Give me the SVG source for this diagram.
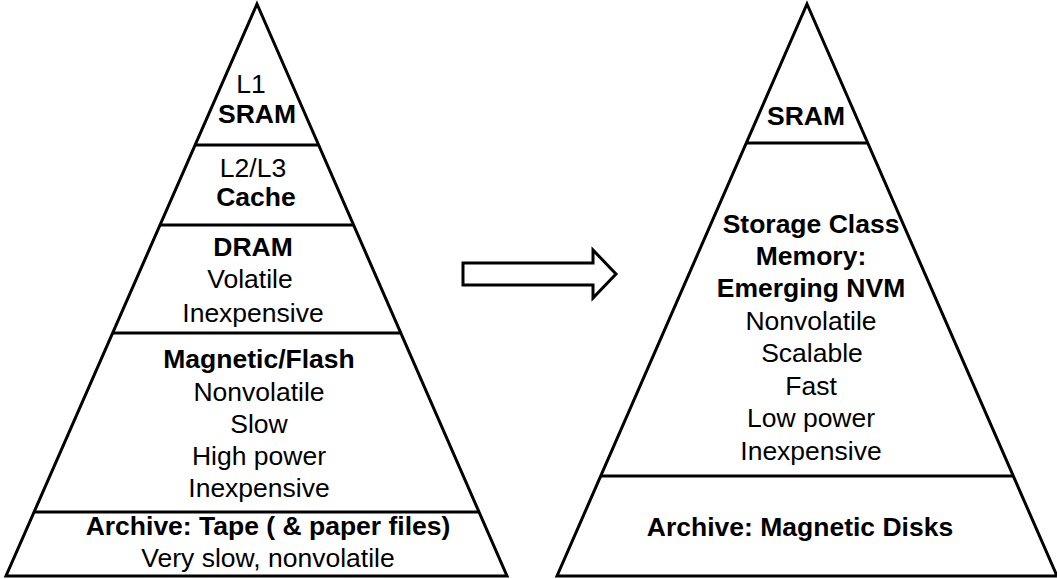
<svg xmlns="http://www.w3.org/2000/svg" width="1057" height="579" viewBox="0 0 1057 579">
  <style>
    .shape { fill: none; stroke: #000; stroke-width: 3; stroke-linejoin: miter; }
    .div { stroke: #000; stroke-width: 3; }
    text { font-family: "Liberation Sans", Arial, sans-serif; font-size: 26.5px; fill: #000; text-anchor: middle; }
    .b { font-weight: bold; }
  </style>
  <rect width="1057" height="579" fill="#fff"/>

  <!-- Current memory hierarchy -->
  <g id="pyramid-current">
    <polygon class="shape" points="257,4 507,576 6,576"/>
    <line class="div" x1="195" y1="145" x2="319" y2="145"/>
    <line class="div" x1="160" y1="225" x2="354" y2="225"/>
    <line class="div" x1="112" y1="333" x2="402" y2="333"/>
    <line class="div" x1="34" y1="512" x2="480" y2="512"/>
  </g>
  <g id="tier-l1">
    <text x="251" y="93">L1</text>
    <text class="b" x="257" y="123">SRAM</text>
  </g>
  <g id="tier-cache">
    <text x="253" y="177">L2/L3</text>
    <text class="b" x="256" y="206">Cache</text>
  </g>
  <g id="tier-dram">
    <text class="b" x="253" y="256">DRAM</text>
    <text x="250" y="288">Volatile</text>
    <text x="253" y="322">Inexpensive</text>
  </g>
  <g id="tier-storage">
    <text class="b" x="259" y="368">Magnetic/Flash</text>
    <text x="259" y="401">Nonvolatile</text>
    <text x="259" y="433">Slow</text>
    <text x="259" y="465">High power</text>
    <text x="259" y="497">Inexpensive</text>
  </g>
  <g id="tier-archive">
    <text class="b" x="268" y="535">Archive: Tape ( &amp; paper files)</text>
    <text x="268" y="567">Very slow, nonvolatile</text>
  </g>

  <!-- Transition arrow -->
  <g id="connectors">
    <polygon class="shape" points="463,263 593,263 593,250 616,274 593,298 593,285 463,285"/>
  </g>

  <!-- Future memory hierarchy -->
  <g id="pyramid-future">
    <polygon class="shape" points="807,4 1057,576 557,576"/>
    <line class="div" x1="746" y1="143" x2="868" y2="143"/>
    <line class="div" x1="600" y1="476" x2="1014" y2="476"/>
  </g>
  <g id="tier-sram">
    <text class="b" x="806" y="125">SRAM</text>
  </g>
  <g id="tier-scm">
    <text class="b" x="811" y="233">Storage Class</text>
    <text class="b" x="811" y="265">Memory:</text>
    <text class="b" x="811" y="297">Emerging NVM</text>
    <text x="811" y="330">Nonvolatile</text>
    <text x="812" y="362">Scalable</text>
    <text x="811" y="395">Fast</text>
    <text x="811" y="427">Low power</text>
    <text x="811" y="460">Inexpensive</text>
  </g>
  <g id="tier-disk">
    <text class="b" x="800" y="536">Archive: Magnetic Disks</text>
  </g>
</svg>
